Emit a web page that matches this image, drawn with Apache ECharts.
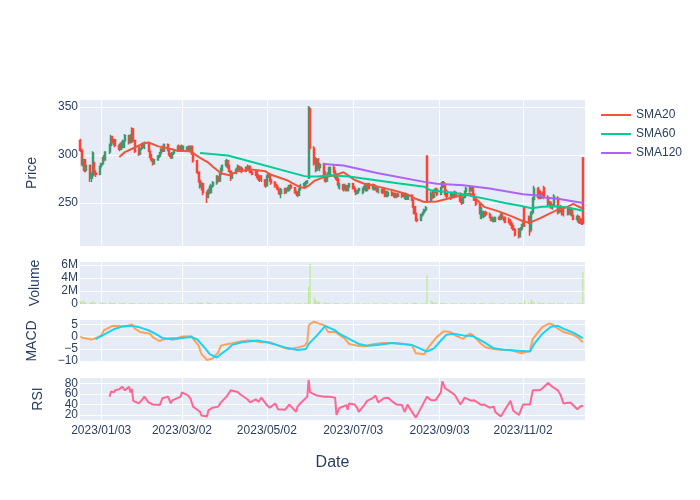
<!DOCTYPE html>
<html>
<head>
<meta charset="utf-8">
<script src="https://cdn.jsdelivr.net/npm/echarts@6/dist/echarts.min.js"></script>
<style>html,body{margin:0;padding:0;background:#fff}#c{width:700px;height:500px}</style>
</head>
<body>
<div id="c"></div>
<script>
// ---- categories: business days starting here ----
const startDate = '2022-12-19';
const tradingDays = 260;

// ---- OHLC values ----
const openP = [
315,305,291,295,284,289,276,279,292,281,
280,288,291,297,295,303,310,319,314,316,
310,306,312,308,315,320,313,320,327,315,
304,301,307,310,308,312,304,299,295,291,
295,299,302,306,304,311,305,300,297,302,
304,309,305,309,306,305,308,305,309,302,
294,282,273,267,270,261,256,263,261,268,
271,277,273,280,286,289,294,288,283,276,
281,285,288,284,286,283,287,285,288,282,
280,283,277,275,278,274,268,277,280,274,
271,268,266,264,260,264,261,265,263,268,
266,262,260,258,264,268,270,272,276,348,
307,291,284,295,287,290,281,273,278,280,
287,283,278,275,266,269,264,268,263,267,
270,265,262,260,263,261,264,267,263,270,
265,269,264,267,262,264,261,262,257,258,
261,258,260,256,259,257,260,255,259,254,
258,253,246,239,233,232,238,240,243,299,
252,260,256,262,264,259,266,271,268,260,
257,260,256,261,258,260,252,250,256,262,
265,263,266,259,253,249,234,238,236,240,
238,235,232,234,231,235,233,238,234,235,
233,230,228,225,222,222,215,223,226,245,
236,230,222,240,254,265,262,255,259,266,
256,249,250,245,248,255,240,246,242,245,
238,245,239,243,237,233,236,230,233,297];
const highP = [
317,307,297,296,291,290,282,304,293,284,
289,292,298,300,304,312,321,320,317,317,
312,313,314,316,322,321,322,329,328,316,
308,309,312,313,314,313,306,301,297,296,
300,303,307,310,312,312,306,302,303,305,
310,311,310,311,310,309,310,310,310,303,
295,283,275,272,271,262,265,268,270,273,
279,279,281,287,290,296,295,290,284,283,
287,290,289,288,288,288,290,289,289,285,
284,284,280,279,279,275,279,282,281,276,
273,270,268,265,266,266,266,267,269,270,
267,264,262,265,270,272,273,274,351,350,
309,298,297,297,292,292,283,280,282,288,
290,285,281,277,271,270,270,269,269,271,
271,268,264,264,266,266,269,269,271,271,
270,270,268,268,266,266,266,264,263,262,
263,261,261,260,261,261,261,260,261,259,
259,254,247,240,236,239,241,244,247,299,
262,263,264,266,266,267,273,273,270,264,
262,261,262,263,262,261,256,257,263,267,
268,267,267,260,255,250,246,242,242,242,
240,237,236,235,236,237,239,240,236,236,
235,233,230,227,224,224,225,228,230,246,
237,231,242,256,268,267,264,260,262,268,
258,252,252,249,259,257,247,248,246,246,
246,246,244,244,239,238,237,235,234,298];
const lowP = [
303,289,288,282,282,272,272,277,279,277,
279,285,289,293,294,301,309,312,310,308,
304,305,306,307,313,311,312,319,313,302,
299,300,305,307,306,303,297,293,289,290,
294,297,300,303,303,304,298,296,296,300,
303,304,303,305,304,303,304,304,300,292,
280,271,265,263,258,250,255,259,260,266,
269,271,272,279,283,287,286,281,273,275,
280,283,283,282,281,282,284,283,281,279,
278,276,273,272,272,266,267,276,272,269,
266,264,263,258,255,259,260,262,262,264,
260,259,256,257,263,266,267,270,275,305,
289,282,283,285,283,279,271,272,276,279,
281,276,273,268,264,262,263,262,262,265,
264,261,258,259,260,259,263,262,262,264,
264,263,263,261,260,259,260,256,256,256,
257,256,255,255,256,255,256,254,253,253,
252,245,238,231,230,231,236,239,241,250,
251,254,255,260,257,258,265,266,258,255,
253,254,255,257,256,250,248,249,255,260,
261,262,258,252,247,238,233,235,234,236,
234,231,230,230,230,232,232,233,231,229,
229,226,223,221,215,213,214,221,224,225,
228,216,221,238,252,254,254,254,255,254,
247,246,244,243,247,238,239,240,237,236,
237,238,237,236,232,230,229,228,227,227];
const closeP = [
305,291,295,284,289,276,281,302,281,280,
288,291,297,295,303,310,319,314,316,310,
306,312,308,315,320,313,320,327,315,304,
301,307,310,308,312,304,299,295,291,295,
299,302,306,304,311,305,300,297,302,304,
309,305,309,306,309,308,305,309,302,294,
282,273,267,270,261,256,263,261,268,271,
277,273,280,286,289,294,288,283,276,281,
285,288,284,286,283,287,285,288,282,280,
283,277,275,278,274,268,277,280,274,271,
268,266,264,260,264,261,265,263,268,266,
262,260,258,264,268,270,272,273,349,307,
291,284,295,287,290,281,273,278,280,287,
283,278,275,270,269,264,268,263,267,270,
265,262,260,263,265,264,267,263,270,265,
269,264,267,262,264,261,265,257,262,261,
258,260,256,259,257,260,257,259,254,258,
253,246,239,233,232,238,240,243,245,252,
260,256,262,264,259,266,271,268,260,257,
260,256,261,258,261,252,250,256,262,265,
263,266,259,253,249,240,245,241,240,238,
235,232,234,231,235,233,238,234,235,230,
230,228,225,222,217,215,223,226,228,227,
230,220,240,254,265,256,255,259,257,256,
249,250,245,248,257,240,246,242,245,238,
245,239,243,237,233,236,230,233,229,229];
// volume in millions
const volumeM = [
0.42,0.31,0.55,0.28,0.22,0.25,0.19,0.48,0.21,0.17,
0.15,0.18,0.22,0.14,0.16,0.2,0.24,0.17,0.13,0.15,
0.12,0.14,0.11,0.16,0.19,0.13,0.17,0.21,0.15,0.12,
0.1,0.13,0.11,0.09,0.12,0.14,0.1,0.12,0.16,0.11,
0.09,0.1,0.13,0.12,0.1,0.11,0.14,0.1,0.09,0.12,
0.1,0.11,0.09,0.12,0.1,0.08,0.11,0.1,0.13,0.15,
0.18,0.2,0.22,0.17,0.21,0.25,0.16,0.14,0.12,0.11,
0.13,0.1,0.12,0.11,0.1,0.09,0.12,0.14,0.1,0.09,
0.1,0.11,0.09,0.1,0.12,0.09,0.08,0.1,0.11,0.09,
0.08,0.1,0.09,0.11,0.08,0.1,0.12,0.09,0.08,0.1,
0.09,0.11,0.08,0.1,0.13,0.09,0.1,0.08,0.09,0.11,
0.1,0.09,0.12,0.1,0.14,0.11,0.12,0.15,2.7,6.15,
1.05,0.62,0.38,0.3,0.25,0.22,0.2,0.18,0.16,0.14,
0.12,0.15,0.11,0.1,0.12,0.09,0.1,0.11,0.08,0.1,
0.09,0.08,0.1,0.09,0.11,0.08,0.1,0.09,0.08,0.1,
0.09,0.1,0.08,0.09,0.11,0.1,0.08,0.09,0.1,0.08,
0.09,0.1,0.08,0.11,0.09,0.1,0.08,0.09,0.12,0.1,
0.13,0.15,0.17,0.14,0.12,0.11,0.1,0.12,0.13,4.45,
0.55,0.32,0.22,0.18,0.15,0.14,0.16,0.12,0.11,0.1,
0.09,0.1,0.11,0.09,0.1,0.12,0.1,0.09,0.11,0.1,
0.09,0.1,0.12,0.11,0.13,0.15,0.17,0.12,0.1,0.09,
0.1,0.11,0.09,0.1,0.08,0.1,0.09,0.11,0.1,0.09,
0.1,0.12,0.11,0.13,0.15,0.17,0.14,0.12,0.13,0.55,
0.2,0.18,0.72,0.38,0.3,0.22,0.18,0.2,0.16,0.15,
0.13,0.12,0.14,0.11,0.16,0.18,0.13,0.12,0.11,0.1,
0.12,0.1,0.11,0.09,0.1,0.12,0.11,0.1,0.09,4.92];

// ---- indicator lines: [trading-day index, value] ----
const sma20 = [[20,298],[24,303],[28,307],[33,312],[35,313],[40,309],[45,307],[50,304.5],[56,304],[59,302],[62,297],[66,292],[69,288],[73,281],[77,279],[81,283],[89,285],[95,283],[98,280],[106,274],[113,267],[115,265.5],[118,268],[120,273],[125,277],[131,279],[135,282],[138,279],[141,274],[146,270],[155,266],[164,262],[169,259],[172,255],[177,251],[184,251.5],[192,256],[197,258],[200,260],[203,256],[208,246],[215,241],[222,236],[228,231],[231,229.5],[236,234],[241,239],[245,243],[250,246],[254,249],[259,244]];
const sma60 = [[62,302],[76,299.5],[115,278],[118,277.5],[123,277.5],[129,279],[139,277.5],[151,274],[164,270.5],[177,267],[180,263],[189,261.5],[197,259],[202,257],[210,253.5],[219,250],[228,246.5],[232,244.5],[238,246],[245,246.5],[251,245],[259,242]];
const sma120 = [[125,290.5],[135,289],[154,281],[177,272],[184,270],[197,268.5],[210,265],[228,259],[237,257.5],[239,255.8],[245,254.5],[259,250]];
const macdLine = [[0,0],[2,-0.6],[6,-1.2],[8,-0.9],[11,0.5],[13,2.6],[17,4.4],[20,4.3],[24,4],[27,5],[29,3.3],[31,1.9],[36,1.2],[38,-0.2],[41,-1.9],[43,-1.2],[47,-0.6],[50,-0.5],[53,0],[58,0.1],[59,-0.9],[61,-3.7],[63,-7.2],[65,-9.6],[66,-10],[69,-9],[71,-6.5],[73,-3.7],[76,-3],[79,-2.7],[83,-2],[86,-1.6],[89,-1.6],[94,-2.3],[98,-2.3],[101,-3.4],[105,-4.8],[108,-5.1],[112,-4.5],[115,-3.7],[117,-2.3],[118,4.2],[119,5.2],[120,6.1],[123,5.4],[125,4.7],[128,1.9],[131,1.9],[132,1.2],[136,-0.9],[139,-3],[143,-3.7],[146,-4],[151,-3],[156,-2.6],[161,-2.6],[167,-3],[170,-3.4],[173,-6.8],[174,-7.6],[177,-7.2],[179,-5.1],[181,-2.3],[184,-0.2],[187,2.2],[190,1.9],[193,0.5],[197,-0.9],[200,1.2],[202,0.5],[206,-3],[209,-4.4],[213,-5.1],[216,-5.4],[221,-5.5],[225,-6.5],[227,-6.8],[231,-5.8],[233,-0.9],[236,2.6],[238,4],[241,5.4],[243,5],[245,3.3],[249,1.9],[252,1.2],[255,-0.2],[259,-2.3]];
const signalLine = [[9,-1],[12,0.5],[18,3],[23,4.3],[26,4.4],[30,3.9],[35,2.6],[40,0.5],[43,-0.6],[48,-1.2],[53,-0.6],[58,-0.2],[60,-1.2],[64,-3.7],[67,-7.2],[70,-8.6],[72,-7.6],[76,-5.1],[79,-3.4],[84,-2.3],[91,-1.6],[96,-2.3],[101,-3.4],[106,-4.6],[112,-5.5],[116,-5.1],[118,-3],[122,0.5],[126,4.4],[129,3.6],[131,2.6],[134,1.2],[139,-0.9],[144,-3],[148,-3.7],[153,-3.4],[160,-2.6],[165,-3],[170,-3.4],[175,-5.1],[179,-6.1],[182,-4.8],[185,-1.6],[189,0.8],[192,1.2],[197,0.5],[202,0.2],[208,-2.3],[213,-4.8],[218,-5.4],[225,-5.8],[231,-6.1],[234,-3],[238,1.2],[242,4],[245,4.4],[249,3.3],[254,1.6],[259,-0.6]];
const rsiLine = [[15,55],[16,65],[17,67],[18,63],[19,67],[20,69],[21,72],[22,74],[23,76],[24,67],[25,74],[26,63],[27,70],[28,47],[30,42],[32,48],[34,55],[35,44],[38,40],[41,39],[42,36],[43,52],[45,55],[47,42],[48,48],[52,55],[53,63],[55,58],[57,52],[59,36],[60,30],[62,26],[63,19],[65,17],[66,29],[69,34],[71,36],[73,44],[75,55],[77,63],[78,67],[81,64],[83,59],[86,50],[88,44],[90,50],[92,45],[94,53],[96,39],[98,34],[100,42],[102,31],[105,30],[106,31],[108,40],[111,26],[112,36],[114,42],[117,55],[118,87],[119,63],[122,57],[125,55],[129,55],[131,53],[132,20],[134,33],[137,39],[138,30],[139,42],[141,40],[143,33],[144,26],[146,39],[148,47],[150,52],[152,57],[154,44],[156,52],[159,53],[161,44],[163,40],[165,39],[167,26],[169,40],[171,23],[173,15],[174,18],[177,45],[179,55],[180,48],[183,48],[185,63],[186,84],[188,71],[190,64],[193,58],[195,40],[196,44],[198,53],[201,47],[203,48],[206,39],[208,40],[210,34],[213,36],[214,26],[216,17],[219,30],[221,47],[223,28],[225,20],[228,40],[231,40],[233,67],[236,67],[238,71],[240,81],[243,74],[245,67],[247,58],[249,42],[252,44],[255,31],[256,33],[258,38],[259,36]];

// ---- ticks ----
const xTickDates = ['2023-01-03','2023-03-02','2023-05-02','2023-07-03','2023-09-03','2023-11-02'];
const priceTicks = [250,300,350];
const volumeTicks = [0,2,4,6];
const macdTicks = [-10,-5,0,5];
const rsiTicks = [20,40,60,80];

function toUTC(s){const p=s.split('-').map(Number);return Date.UTC(p[0],p[1]-1,p[2]);}
const dates=[];
(function(){let t=toUTC(startDate);while(dates.length<tradingDays){const wd=new Date(t).getUTCDay();if(wd!==0&&wd!==6)dates.push(t);t+=86400000;}})();
function pts(arr){return arr.map(p=>[dates[p[0]],p[1]]);}
function fmtDate(v){const d=new Date(v);return d.getUTCFullYear()+'/'+String(d.getUTCMonth()+1).padStart(2,'0')+'/'+String(d.getUTCDate()).padStart(2,'0');}

const font='"Liberation Sans", Arial, sans-serif';
const tc='#2a3f5f';
const xMin=Date.UTC(2022,11,18,18), xMax=Date.UTC(2023,11,16,12);
const xTicks=xTickDates.map(toUTC);
const panels=[[100,146],[262,42],[320,42],[378,42]];

const grid=panels.map(p=>({left:80,right:115,top:p[0],height:p[1],show:true,backgroundColor:'#E5ECF6',borderWidth:0,containLabel:false}));
const xAxis=panels.map((p,i)=>({
  type:'value',gridIndex:i,min:xMin,max:xMax,scale:true,
  axisLine:{show:false},axisTick:{show:false,customValues:xTicks},
  axisLabel:{show:i===3,customValues:xTicks,formatter:fmtDate,color:tc,fontSize:12,fontFamily:font,margin:5,hideOverlap:false},
  splitLine:{show:true,lineStyle:{color:'#ffffff',width:1}},
  name:i===3?'Date':'',nameLocation:'middle',nameGap:35,
  nameTextStyle:{fontSize:16,color:tc,fontFamily:font}
}));
function yAx(i,name,min,max,ticks,labelTicks,fmt,gap,split){
  return {type:'value',gridIndex:i,position:'left',offset:0,min:min,max:max,name:name,nameLocation:'middle',nameGap:gap,
    nameTextStyle:{fontSize:14,color:tc,fontFamily:font},
    axisLine:{show:false},axisTick:{show:false,customValues:ticks},
    axisLabel:{customValues:labelTicks,formatter:fmt,color:tc,fontSize:12,fontFamily:font,margin:2,hideOverlap:false,showMinLabel:true,showMaxLabel:true},
    splitLine:{show:split,lineStyle:{color:'#ffffff',width:1}}};
}
const minusFmt=v=>v<0?'\u2212'+Math.abs(v):String(v);
const yAxis=[
  yAx(0,'Price',205.2,357.3,priceTicks,priceTicks,v=>String(v),41,true),
  yAx(1,'Volume',0,6.46,volumeTicks,volumeTicks,v=>v===0?'0':v+'M',38,true),
  yAx(2,'MACD',-10.4,6.8,macdTicks,macdTicks,minusFmt,41,true),
  yAx(3,'RSI',10.5,90.5,rsiTicks,[rsiTicks[0],rsiTicks[2]],v=>String(v),35,true),
  yAx(3,'',10.5,90.5,rsiTicks,[rsiTicks[1],rsiTicks[3]],v=>String(v),35,false)
];

const lineS=(name,data,color,xi,yi)=>({type:'line',name:name,data:pts(data),xAxisIndex:xi,yAxisIndex:yi,
  symbol:'none',showSymbol:false,lineStyle:{color:color,width:2},itemStyle:{color:color},silent:true});

const option={
  animation:false,
  backgroundColor:'#ffffff',
  textStyle:{fontFamily:font},
  grid:grid,xAxis:xAxis,yAxis:yAxis,
  legend:{data:['SMA20','SMA60','SMA120'],orient:'vertical',left:596,top:104,itemWidth:30,itemHeight:2,itemGap:7,icon:'rect',
    textStyle:{color:tc,fontSize:12,fontFamily:font}},
  series:[
    {type:'candlestick',name:'Price',xAxisIndex:0,yAxisIndex:0,barWidth:1.6,layout:'horizontal',
     data:dates.map((t,i)=>[t,openP[i],closeP[i],lowP[i],highP[i]]),
     itemStyle:{color:'#3D9970',color0:'#FF4136',borderColor:'#3D9970',borderColor0:'#FF4136',borderWidth:1.5}},
    lineS('SMA20',sma20,'#EF553B',0,0),
    lineS('SMA60',sma60,'#00CC96',0,0),
    lineS('SMA120',sma120,'#AB63FA',0,0),
    {type:'bar',name:'Volume',xAxisIndex:1,yAxisIndex:1,barWidth:1,
     data:dates.map((t,i)=>[t,volumeM[i]]),itemStyle:{color:'#B6E880'}},
    lineS('MACD',macdLine,'#FFA15A',2,2),
    lineS('Signal',signalLine,'#19D3F3',2,2),
    lineS('RSI',rsiLine,'#FF6692',3,3)
  ]
};
const chart=echarts.init(document.getElementById('c'),null,{renderer:'canvas',width:700,height:500});
chart.setOption(option);
</script>
</body>
</html>
